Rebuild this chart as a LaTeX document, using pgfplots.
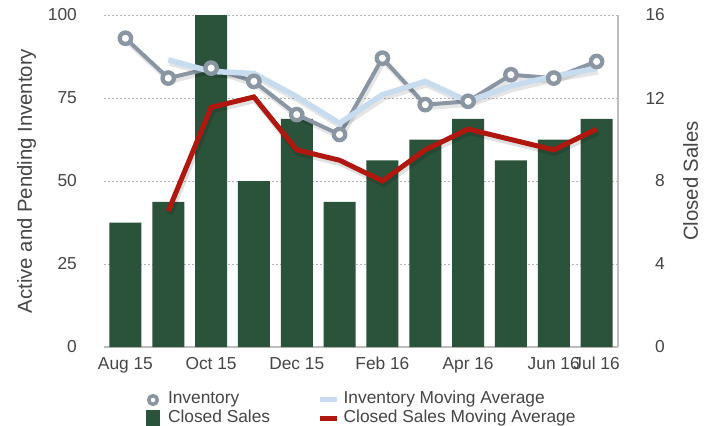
\documentclass[border=0pt]{standalone}
\usepackage{fontspec}
\setmainfont{Liberation Sans}
\usepackage{pgfplots}
\pgfplotsset{compat=1.18}
\definecolor{barg}{HTML}{2B523A}
\definecolor{invgrey}{HTML}{8A96A4}
\definecolor{lblue}{HTML}{C8DCF0}
\definecolor{csred}{HTML}{B0170F}
\definecolor{txt}{HTML}{454545}
\definecolor{gridc}{HTML}{B4B4B4}
\definecolor{axc}{HTML}{BDBDBD}
\pgfplotsset{
  base/.style={
    at={(104bp,-347bp)}, anchor=south west,
    width=514bp, height=332bp, scale only axis,
    xmin=-0.5, xmax=11.5,
    major tick length=0pt,
    tick label style={font=\fontsize{17.4}{18}\selectfont, text=txt},
    label style={font=\fontsize{20.4}{22}\selectfont, text=txt},
    /pgf/number format/assume math mode=true,
  }
}
\begin{document}
\begin{tikzpicture}
\useasboundingbox (0bp,0bp) rectangle (713bp,-426bp);
% right axis: closed sales
\begin{axis}[base,
  ymin=0, ymax=16, ytick={0,4,8,12,16},
  axis y line*=right, axis x line*=bottom,
  axis line style={draw=axc, line width=1.2bp},
  xtick={0,2,4,6,8,10,11},
  xticklabels={Aug 15,Oct 15,Dec 15,Feb 16,Apr 16,Jun 16,Jul 16},
  xticklabel style={anchor=north, inner sep=0pt, yshift=-10bp},
  yticklabel style={anchor=east, inner sep=0pt, xshift=47bp},
  ymajorgrids, grid style={draw=gridc, line width=1bp, dash pattern=on 2bp off 2bp},
  ylabel={Closed Sales},
  ylabel style={at={([xshift=72.7bp]axis description cs:1,0.5)}, anchor=center},
]
\addplot[ybar, bar width=32bp, fill=barg, draw=none] coordinates {(0,6) (1,7) (2,16) (3,8) (4,11) (5,7) (6,9) (7,10) (8,11) (9,9) (10,10) (11,11)};
\addplot[black, opacity=0.12, line width=6bp, xshift=1.5bp, yshift=-3bp, forget plot] coordinates {(1,6.55) (2,11.55) (3,12.05) (4,9.5) (5,9.0) (6,8.0) (7,9.5) (8,10.5) (9,10.0) (10,9.5) (11,10.5)};
\addplot[csred, line width=5bp] coordinates {(1,6.55) (2,11.55) (3,12.05) (4,9.5) (5,9.0) (6,8.0) (7,9.5) (8,10.5) (9,10.0) (10,9.5) (11,10.5)};
\end{axis}
% left axis: inventory
\begin{axis}[base,
  ymin=0, ymax=100, ytick={0,25,50,75,100},
  axis y line*=left, axis x line=none,
  y axis line style={draw=none},
  yticklabel style={anchor=east, inner sep=0pt, xshift=-27bp},
  ylabel={Active and Pending Inventory},
  ylabel style={at={([xshift=-77.3bp]axis description cs:0,0.5)}, anchor=center},
  clip=false,
  legend columns=2, legend cell align=left,
  legend style={
    at={(axis description cs:0.0788,-0.1355)}, anchor=north west,
    draw=none, fill=none, inner sep=0pt, outer sep=0pt,
    font=\fontsize{17.4}{18}\selectfont, text=txt,
    row sep=2bp,
    nodes={inner sep=0pt, text height=12bp, text depth=4bp},
    /tikz/column 1/.style={column sep=6.5bp},
    /tikz/column 2/.style={column sep=47.5bp},
    /tikz/column 3/.style={column sep=4bp},
  },
]
\addplot[black, opacity=0.10, line width=5bp, xshift=1.5bp, yshift=-3bp, forget plot] coordinates {(0,93) (1,81) (2,84) (3,80) (4,70) (5,64) (6,87) (7,73) (8,74) (9,82) (10,81) (11,86)};
\addplot[invgrey, line width=4bp, mark=*, mark size=5.7bp, mark options={fill=white, line width=4.3bp},
  legend image code/.code={\path (0bp,0bp) (13bp,0bp); \draw[invgrey, line width=3.5bp, fill=white] (6.5bp,0bp) circle[radius=4.3bp];}]
  coordinates {(0,93) (1,81) (2,84) (3,80) (4,70) (5,64) (6,87) (7,73) (8,74) (9,82) (10,81) (11,86)};
\addlegendentry{Inventory}
\addplot[black, opacity=0.10, line width=6bp, xshift=1.5bp, yshift=-3bp, forget plot] coordinates {(1,86.5) (2,83) (3,82.4) (4,75.4) (5,67.4) (6,76) (7,80) (8,74) (9,78.6) (10,81.6) (11,83.9)};
\addplot[lblue, line width=5.5bp,
  legend image code/.code={\draw[lblue, line width=5bp] (0bp,0bp) -- (17bp,0bp);}]
  coordinates {(1,86.5) (2,83) (3,82.4) (4,75.4) (5,67.4) (6,76) (7,80) (8,74) (9,78.6) (10,81.6) (11,83.9)};
\addlegendentry{Inventory Moving Average}
\addlegendimage{legend image code/.code={\fill[barg] (0bp,-8bp) rectangle (13bp,8bp);}}
\addlegendentry{Closed Sales}
\addlegendimage{legend image code/.code={\draw[csred, line width=5bp] (0bp,0bp) -- (17bp,0bp);}}
\addlegendentry{Closed Sales Moving Average}
\end{axis}
\end{tikzpicture}
\end{document}
